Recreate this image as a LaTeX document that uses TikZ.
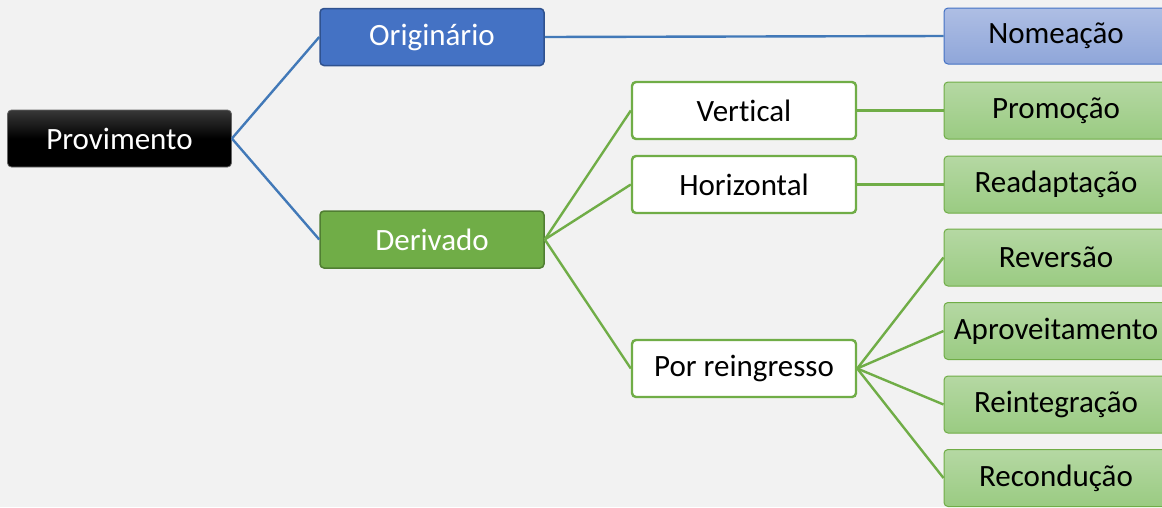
\documentclass[tikz,border=0pt]{standalone}
\usepackage{fontspec}
\setmainfont{Carlito}[Ligatures={NoCommon,NoContextual}]
\definecolor{bg}{HTML}{F2F2F2}
\definecolor{blueA}{HTML}{4472C4}
\definecolor{blueB}{HTML}{2F528F}
\definecolor{blueL1}{HTML}{AEBEE4}
\definecolor{blueL2}{HTML}{8FA6D9}
\definecolor{greenA}{HTML}{70AD47}
\definecolor{greenB}{HTML}{507E32}
\definecolor{greenL1}{HTML}{B5D8A3}
\definecolor{greenL2}{HTML}{9ACB82}
\definecolor{lineblue}{HTML}{4279B8}
\begin{document}
\begin{tikzpicture}[x=1pt,y=-1pt,
  box/.style={rounded corners=4pt,minimum width=224pt,minimum height=57pt,inner sep=0pt,
    font=\fontsize{31}{36}\selectfont},
  rootbox/.style={box,draw=black!60,line width=0.8pt,top color=black!78,bottom color=black,middle color=black,text=white},
  bluebox/.style={box,draw=blueB,line width=1.5pt,fill=blueA,text=white},
  greenbox/.style={box,draw=greenB,line width=1.5pt,fill=greenA,text=white},
  whitebox/.style={box,draw=greenA,line width=2.4pt,fill=white,text=black},
  lbluebox/.style={box,draw=blueA,line width=1pt,top color=blueL1,bottom color=blueL2,text=black},
  lgreenbox/.style={box,draw=greenA,line width=1pt,top color=greenL1,bottom color=greenL2,text=black},
  bline/.style={draw=lineblue,line width=2.4pt},
  gline/.style={draw=greenA,line width=2.4pt}]
\fill[bg] (0,0) rectangle (1162,507);
\useasboundingbox (0,0) rectangle (1162,507);
\clip (0,0) rectangle (1162,507);
\node[rootbox] (prov) at (119.5,138.5) {Provimento};
\node[bluebox] (orig) at (432,37) {Originário};
\node[greenbox] (deriv) at (432,239.5) {Derivado};
\node[whitebox] (vert) at (744,110.5) {Vertical};
\node[whitebox] (hor) at (744,184.5) {Horizontal};
\node[whitebox] (porr) at (744,368.5) {Por reingresso};
\node[lbluebox,minimum height=56pt] (nom) at (1056,36) {Nomeação};
\node[lgreenbox] (prom) at (1056,110.5) {Promoção};
\node[lgreenbox] (read) at (1056,184.5) {Readaptação};
\node[lgreenbox] (rev) at (1056,257.5) {Reversão};
\node[lgreenbox] (apr) at (1056,331) {Aproveitamento};
\node[lgreenbox] (rein) at (1056,404.5) {Reintegração};
\node[lgreenbox] (rec) at (1056,478) {Recondução};
\path[bline] (prov.east) -- (orig.west);
\path[bline] (prov.east) -- (deriv.west);
\path[bline] (orig.east) -- (nom.west);
\path[gline] (deriv.east) -- (vert.west);
\path[gline] (deriv.east) -- (hor.west);
\path[gline] (deriv.east) -- (porr.west);
\path[gline] (vert.east) -- (prom.west);
\path[gline] (hor.east) -- (read.west);
\path[gline] (porr.east) -- (rev.west);
\path[gline] (porr.east) -- (apr.west);
\path[gline] (porr.east) -- (rein.west);
\path[gline] (porr.east) -- (rec.west);
\end{tikzpicture}
\end{document}
